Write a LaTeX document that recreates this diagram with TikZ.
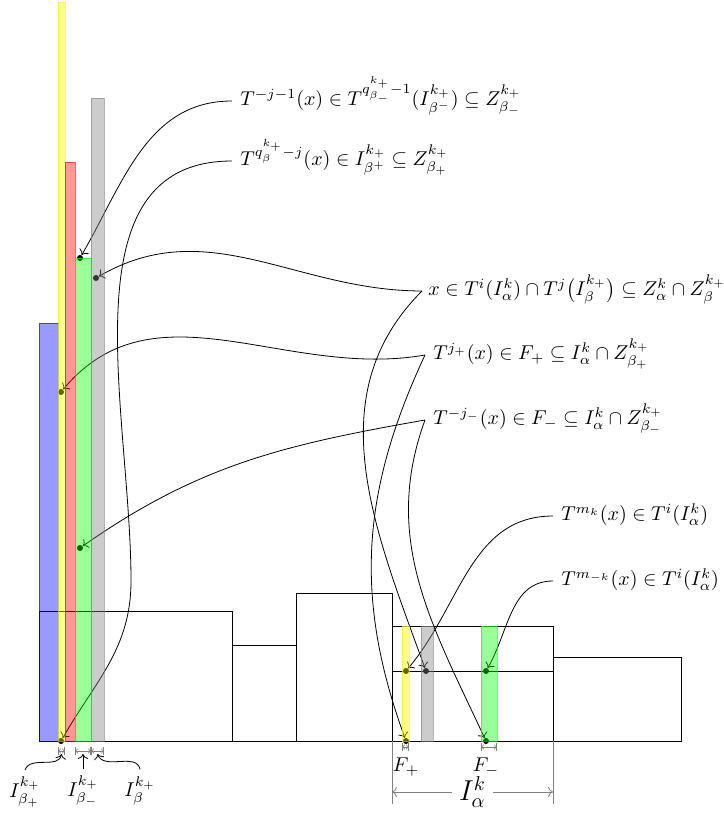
\documentclass[tikz,border=0pt]{standalone}
\usepackage{amsmath}
\usepackage{tikz}
\usetikzlibrary{arrows.meta, positioning, calc}
\tikzset{
  bar/.style={fill opacity=0.4, draw opacity=0.6},
  dot/.style={circle, fill, inner sep=0pt, minimum size=3pt},
  lbl/.style={anchor=mid west, inner xsep=4pt, font=\normalsize},
  conn/.style={->},
  span/.style={gray, line width=0.3pt, >={To[length=1.2pt]}, |<->|}
}
\begin{document}
\begin{tikzpicture}[x=5pt, y=5pt]
\useasboundingbox (-3.9,-7.5) rectangle (68.5,74.1);

% towers over the base
\draw (0,0) rectangle (19.3,13.0);
\draw (19.3,0) rectangle (25.7,9.6);
\draw (25.7,0) rectangle (35.3,14.8);
\draw (35.3,0) rectangle (51.4,11.5);
\draw (51.4,0) rectangle (64.2,8.4);
\draw (35.3,7.0) -- (51.4,7.0);

% points of the orbit
\node[dot] (gtop) at (4.1,48.3) {};
\node[dot] (ybase) at (2.2,0) {};
\node[dot] (xgray) at (5.7,46.3) {};
\node[dot] (xlev) at (38.7,7.0) {};
\node[dot] (ymid) at (2.2,34.9) {};
\node[dot] (fplus) at (36.7,0) {};
\node[dot] (gmid) at (4.1,19.3) {};
\node[dot] (fminus) at (44.7,0) {};
\node[dot] (mlev) at (36.7,7.0) {};
\node[dot] (mmlev) at (44.7,7.0) {};

% labels
\node[lbl] (l1) at (19.3,64.0)
  {$T^{-j-1}(x)\in T^{q^{k_+}_{\beta_-}-1}(I^{k_+}_{\beta^-})\subseteq Z^{k_+}_{\beta_-}$};
\node[lbl] (l2) at (19.3,58.0)
  {$T^{q^{k_+}_{\beta}-j}(x)\in I^{k_+}_{\beta^+}\subseteq Z^{k_+}_{\beta_+}$};
\node[lbl, inner xsep=3pt] (l3) at (38.3,45.0)
  {$x\in T^i(I^k_\alpha)\cap T^j\big(I^{k_+}_\beta\big)\subseteq Z^k_\alpha\cap Z^{k_+}_\beta$};
\node[lbl] (l4) at (38.6,38.6)
  {$T^{j_+}(x)\in F_+\subseteq I^k_\alpha\cap Z^{k_+}_{\beta_+}$};
\node[lbl] (l5) at (38.6,32.1)
  {$T^{-j_-}(x)\in F_-\subseteq I^k_\alpha\cap Z^{k_+}_{\beta_-}$};
\node[lbl] (l6) at (51.4,22.5) {$T^{m_k}(x)\in T^i(I^k_\alpha)$};
\node[lbl] (l7) at (51.4,16.0) {$T^{m_{-k}}(x)\in T^i(I^k_\alpha)$};

% connectors
\coordinate (l2bend) at (9.2,16);
\draw[conn] (l1.mid west) to[out=180, in=60] (gtop);
\draw[conn] (l2.mid west) to[out=180, in=90] (l2bend) to[out=-90, in=60] (ybase);
\draw[conn] (l3.mid west) to[out=180, in=30] (xgray);
\draw[conn] (l3.mid west) to[out=225, in=110] (xlev);
\draw[conn] (l4.mid west) to[out=190, in=50] (ymid);
\draw[conn] (l4.mid west) to[out=245, in=110] (fplus);
\draw[conn] (l5.mid west) to[out=190, in=35] (gmid);
\draw[conn] (l5.mid west) to[out=250, in=115] (fminus);
\draw[conn] (l6.mid west) to[out=180, in=50] (mlev);
\draw[conn] (l7.mid west) to[out=180, in=60] (mmlev);

% intervals under the columns
\draw[span] (1.9,-1.0) -- (2.6,-1.0);
\draw[span] (3.6,-1.0) -- (5.2,-1.0);
\draw[span] (5.2,-1.0) -- (6.5,-1.0);
\draw[span] (36.3,-0.6) -- (37.0,-0.6);
\draw[span] (44.2,-0.6) -- (45.8,-0.6);
\node (fpl) at (36.7,-2.6) {$F_+$};
\node (fml) at (44.7,-2.6) {$F_-$};

\coordinate (ibp) at (2.25,-1.3);
\coordinate (ibm) at (4.4,-1.3);
\coordinate (ib) at (5.85,-1.3);
\node (lbp) at (-1.4,-5.1) {$I^{k_+}_{\beta_+}$};
\node (lbm) at (4.4,-5.0) {$I^{k_+}_{\beta_-}$};
\node (lb) at (10.1,-5.0) {$I^{k_+}_{\beta}$};
\draw[conn] (lbp.north) to[out=70, in=-100] (ibp);
\draw[conn] (lbm.north) -- (ibm);
\draw[conn] (lb.north) to[out=100, in=-70] (ib);

% I_alpha^k
\coordinate (ia1) at (35.3,-5.1);
\coordinate (ia2) at (51.4,-5.1);
\draw[gray] (35.3,0) -- (35.3,-6.3);
\draw[gray] (51.4,0) -- (51.4,-6.3);
\node[font=\Large] (ial) at (43.35,-5.1) {$I^k_\alpha$};
\draw[gray, ->] (ial) -- (ia1);
\draw[gray, ->] (ial) -- (ia2);

% columns (see-through)
\draw[bar, draw=blue, fill=blue] (0,0) rectangle (1.9,41.8);
\draw[bar, draw=yellow, fill=yellow] (1.9,0) rectangle (2.6,73.9);
\draw[bar, draw=red, fill=red] (2.6,0) rectangle (3.6,57.9);
\draw[bar, draw=green, fill=green] (3.6,0) rectangle (5.2,48.3);
\draw[bar, draw=gray, fill=gray] (5.2,0) rectangle (6.5,64.3);
\draw[bar, draw=yellow, fill=yellow] (36.3,0) rectangle (37.0,11.5);
\draw[bar, draw=gray, fill=gray] (38.2,0) rectangle (39.4,11.5);
\draw[bar, draw=green, fill=green] (44.2,0) rectangle (45.8,11.5);
\end{tikzpicture}
\end{document}
